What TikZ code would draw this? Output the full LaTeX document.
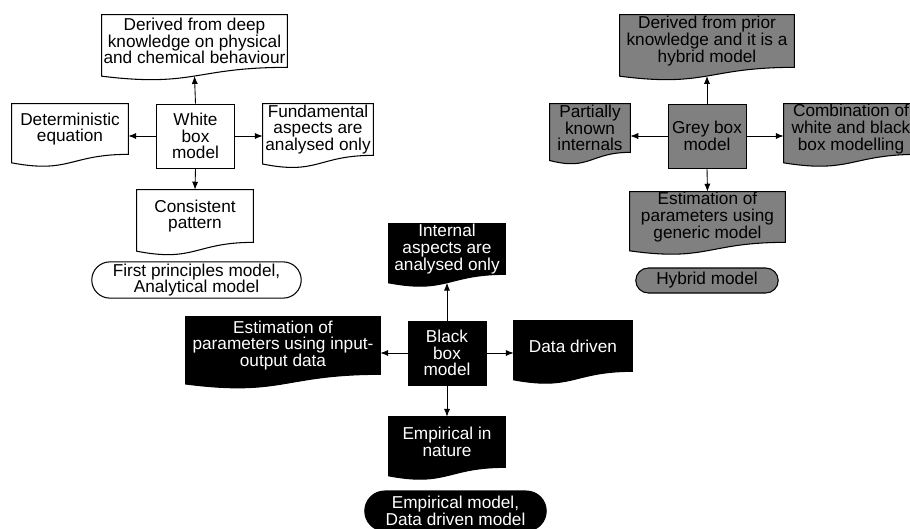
\documentclass[tikz,border=0pt]{standalone}
\usepackage{fontspec}
\setmainfont{Liberation Sans}
\usepackage{xcolor}
\definecolor{greyfill}{RGB}{128,128,128}
\usepackage{tikz}
\usetikzlibrary{shapes.misc, arrows.meta, calc, backgrounds}
\newcommand{\lbl}{\fontsize{9.8}{9.5}\selectfont}
% wavy bottom document shape drawn behind a named node
\newcommand{\docshape}[2]{%
  \begin{pgfonlayer}{background}
    \draw[line width=0.6pt, fill=#2] (#1.north west) -- (#1.north east) -- (#1.south east)
      .. controls (#1.south) and ($(#1.north)!1.384!(#1.south)$) .. ($(#1.north west)!1.1675!(#1.south west)$) -- cycle;
  \end{pgfonlayer}
  \coordinate (#1-b) at ($(#1.north)!1.165!(#1.south)$);
}
\tikzset{
  doc/.style={rectangle, align=center, inner sep=0pt, font=\lbl},
  box/.style={rectangle, draw, line width=0.5pt, fill=white, align=center, inner sep=1pt, font=\lbl, minimum width=1.56cm, minimum height=1.28cm},
  term/.style={rounded rectangle, draw, line width=0.6pt, fill=white, align=center, inner sep=1pt, font=\lbl},
  arr/.style={-{Latex[length=4.5pt,width=3.5pt]}, line width=0.5pt}
}

\begin{document}
\begin{tikzpicture}[x=0.02cm, y=-0.02cm]
  \useasboundingbox (0,0) rectangle (910,528);
  % White box model
  \node[box] (w-box) at (195.5,136) {White\\box\\model};
  \node[doc, minimum width=3.70cm, minimum height=1.04cm] (w-top) at (194.5,41) {Derived from deep\\knowledge on physical\\and chemical behaviour};
  \node[doc, minimum width=2.32cm, minimum height=1.00cm] (w-left) at (70,129) {Deterministic\\equation};
  \node[doc, minimum width=2.20cm, minimum height=1.02cm] (w-right) at (318,129.5) {Fundamental\\aspects are\\analysed only};
  \node[doc, minimum width=2.32cm, minimum height=1.04cm] (w-bot) at (195,216) {Consistent\\pattern};
  \node[term, minimum width=4.26cm, minimum height=0.68cm] (w-term) at (196.5,280) {First principles model,\\Analytical model};
  % Grey box model
  \node[box, fill=greyfill] (g-box) at (707,136) {Grey box\\model};
  \node[doc, minimum width=3.48cm, minimum height=1.04cm] (g-top) at (707,41) {Derived from prior\\knowledge and it is a\\hybrid model};
  \node[doc, minimum width=1.60cm, minimum height=0.96cm] (g-left) at (590,128) {Partially\\known\\internals};
  \node[doc, minimum width=2.68cm, minimum height=1.00cm] (g-right) at (851,129) {Combination of\\white and black\\box modelling};
  \node[doc, minimum width=3.10cm, minimum height=1.00cm] (g-bot) at (707.5,217) {Estimation of\\parameters using\\generic model};
  \node[term, fill=greyfill, minimum width=2.92cm, minimum height=0.50cm] (g-term) at (707,280.5) {Hybrid model};
  % Black box model
  \node[box, fill=black, text=white] (b-box) at (447,353) {Black\\box\\model};
  \node[doc, text=white, minimum width=2.32cm, minimum height=1.00cm] (b-top) at (447,249) {Internal\\aspects are\\analysed only};
  \node[doc, text=white, minimum width=3.88cm, minimum height=1.14cm] (b-left) at (283,345.5) {Estimation of\\parameters using input-\\output data};
  \node[doc, text=white, minimum width=2.36cm, minimum height=1.00cm] (b-right) at (573,346) {Data driven};
  \node[doc, text=white, minimum width=2.32cm, minimum height=1.00cm] (b-bot) at (447,442) {Empirical in\\nature};
  \node[term, fill=black, text=white, minimum width=3.70cm, minimum height=0.80cm] (b-term) at (455.5,511) {Empirical model,\\Data driven model};
  % Document shapes behind the texts
  \foreach \g/\c in {w/white, g/greyfill, b/black} {
    \foreach \p in {top,left,right,bot} {
      \docshape{\g-\p}{\c}
    }
  }
  % Arrows from each model box
  \foreach \g in {w,g,b} {
    \draw[arr] (\g-box.north) -- (\g-top-b);
    \draw[arr] (\g-box.south) -- (\g-bot.north);
    \draw[arr] (\g-box.west) -- (\g-box.west -| \g-left.east);
    \draw[arr] (\g-box.east) -- (\g-box.east -| \g-right.west);
  }
\end{tikzpicture}
\end{document}
